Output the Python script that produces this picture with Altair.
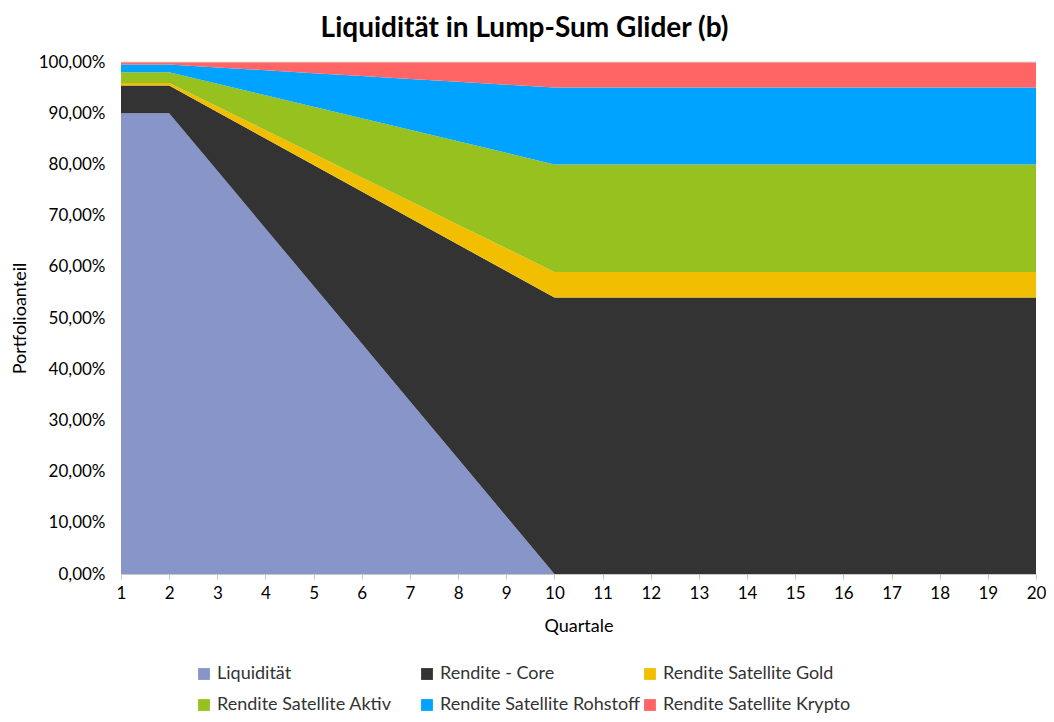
import altair as alt
import pandas as pd

quartale = list(range(1, 21))
series_names = ["Liquidität", "Rendite - Core", "Rendite Satellite Gold",
                "Rendite Satellite Aktiv", "Rendite Satellite Rohstoff", "Rendite Satellite Krypto"]
colors = ["#8795C8", "#333333", "#F2BF00", "#97C11F", "#00A3FF", "#FF6565"]

liquiditaet = [90, 90, 78.75, 67.5, 56.25, 45, 33.75, 22.5, 11.25, 0] + [0] * 10
core = [5.4, 5.4, 11.48, 17.55, 23.63, 29.7, 35.78, 41.85, 47.93, 54] + [54] * 10
gold = [0.5, 0.5, 1.06, 1.63, 2.19, 2.75, 3.31, 3.88, 4.44, 5] + [5] * 10
aktiv = [2.1, 2.1, 4.46, 6.83, 9.19, 11.55, 13.91, 16.28, 18.64, 21] + [21] * 10
rohstoff = [1.5, 1.5, 3.19, 4.88, 6.56, 8.25, 9.94, 11.63, 13.31, 15] + [15] * 10
krypto = [0.5, 0.5, 1.06, 1.63, 2.19, 2.75, 3.31, 3.88, 4.44, 5] + [5] * 10

values = [liquiditaet, core, gold, aktiv, rohstoff, krypto]
rows = []
for i, (name, vals) in enumerate(zip(series_names, values)):
    for q, v in zip(quartale, vals):
        rows.append({"Quartal": q, "Serie": name, "Anteil": v, "ord": i})
df = pd.DataFrame(rows)

FONT = "Lato"

chart = alt.Chart(df).mark_area(opacity=1, interpolate="linear").encode(
    x=alt.X("Quartal:Q",
            scale=alt.Scale(domain=[1, 20], nice=False, zero=False),
            axis=alt.Axis(values=quartale, title="Quartale", grid=False,
                          tickColor="#C8C8C8", domainColor="#C8C8C8", tickSize=5,
                          labelFontSize=17, titleFontSize=18, labelColor="#000",
                          titleColor="#000", titleFontWeight="normal", labelPadding=6,
                          titlePadding=16, labelFont=FONT, titleFont=FONT,
                          labelFlush=False, labelOverlap=False)),
    y=alt.Y("Anteil:Q", stack="zero",
            scale=alt.Scale(domain=[0, 100], nice=False),
            axis=alt.Axis(values=[0, 10, 20, 30, 40, 50, 60, 70, 80, 90, 100],
                          labelExpr="replace(format(datum.value, '.2f'), '.', ',') + '%'",
                          title="Portfolioanteil", grid=False, ticks=False,
                          domainColor="#C8C8C8", labelFontSize=17, titleFontSize=18,
                          labelColor="#000", titleColor="#000", titleFontWeight="normal",
                          labelPadding=16, titlePadding=9, labelFont=FONT, titleFont=FONT,
                          labelFlush=False, labelOverlap=False)),
    color=alt.Color("Serie:N",
                    scale=alt.Scale(domain=series_names, range=colors),
                    legend=alt.Legend(title=None, orient="none", legendX=74, legendY=603,
                                      direction="horizontal", columns=3, symbolType="square",
                                      symbolSize=140, labelFontSize=18, labelFont=FONT,
                                      labelColor="#333", columnPadding=0, rowPadding=13,
                                      gridAlign="all", labelOffset=4,
                                      symbolStrokeWidth=0, labelLimit=300)),
    order=alt.Order("ord:Q"),
)

top_line = alt.Chart(pd.DataFrame({"y": [100]})).mark_rule(color="#D9D9D9", strokeWidth=1).encode(
    y=alt.Y("y:Q", scale=alt.Scale(domain=[0, 100]))
)

final = alt.layer(chart, top_line).properties(
    width=915, height=512,
    autosize=alt.AutoSizeParams(type="none"),
    padding={"left": 113, "top": 54, "right": 10, "bottom": 140},
    title=alt.Title("Liquidität in Lump-Sum Glider (b)", fontSize=28, font=FONT,
                    fontWeight="bold", color="#000", offset=10, anchor="middle", dx=-54),
).configure_view(stroke=None)

final.save("out.html", embed_options={"renderer": "svg", "actions": False})
